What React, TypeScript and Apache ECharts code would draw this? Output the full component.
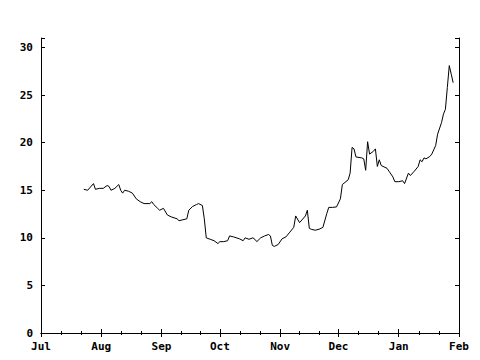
import React, { useEffect, useRef } from "react";
import * as echarts from "echarts";

const dates: string[] = [
  "2007-07-23", "2007-07-25", "2007-07-28", "2007-07-29", "2007-07-31",
  "2007-08-02", "2007-08-04", "2007-08-05", "2007-08-06", "2007-08-08",
  "2007-08-10", "2007-08-11", "2007-08-12", "2007-08-13", "2007-08-15",
  "2007-08-17", "2007-08-19", "2007-08-21", "2007-08-23", "2007-08-26",
  "2007-08-27", "2007-08-28", "2007-08-30", "2007-08-31", "2007-09-02",
  "2007-09-04", "2007-09-06", "2007-09-09", "2007-09-10", "2007-09-12",
  "2007-09-14", "2007-09-15", "2007-09-17", "2007-09-19", "2007-09-20",
  "2007-09-22", "2007-09-23", "2007-09-24", "2007-09-26", "2007-09-28",
  "2007-09-30", "2007-10-01", "2007-10-03", "2007-10-05", "2007-10-06",
  "2007-10-08", "2007-10-11", "2007-10-13", "2007-10-14", "2007-10-16",
  "2007-10-18", "2007-10-19", "2007-10-20", "2007-10-22", "2007-10-24",
  "2007-10-26", "2007-10-27", "2007-10-28", "2007-10-29", "2007-10-31",
  "2007-11-02", "2007-11-04", "2007-11-06", "2007-11-08", "2007-11-09",
  "2007-11-11", "2007-11-14", "2007-11-15", "2007-11-16", "2007-11-17",
  "2007-11-19", "2007-11-21", "2007-11-23", "2007-11-25", "2007-11-26",
  "2007-11-28", "2007-11-30", "2007-12-02", "2007-12-03", "2007-12-06",
  "2007-12-07", "2007-12-08", "2007-12-09", "2007-12-10", "2007-12-13",
  "2007-12-14", "2007-12-15", "2007-12-16", "2007-12-17", "2007-12-19",
  "2007-12-20", "2007-12-21", "2007-12-22", "2007-12-23", "2007-12-26",
  "2007-12-27", "2007-12-29", "2007-12-30", "2008-01-01", "2008-01-03",
  "2008-01-04", "2008-01-06", "2008-01-07", "2008-01-09", "2008-01-11",
  "2008-01-12", "2008-01-13", "2008-01-14", "2008-01-15", "2008-01-17",
  "2008-01-18", "2008-01-20", "2008-01-21", "2008-01-23", "2008-01-24",
  "2008-01-25", "2008-01-26", "2008-01-27", "2008-01-28", "2008-01-29",
];

const values: number[] = [
  15.1, 15.0, 15.7, 15.1, 15.2,
  15.2, 15.5, 15.4, 15.0, 15.2,
  15.6, 15.0, 14.7, 15.0, 14.9,
  14.7, 14.1, 13.8, 13.6, 13.6,
  13.8, 13.5, 13.1, 12.9, 13.1,
  12.4, 12.2, 12.0, 11.8, 11.9,
  12.0, 12.9, 13.3, 13.5, 13.6,
  13.4, 12.0, 10.0, 9.85, 9.7,
  9.4, 9.6, 9.6, 9.7, 10.2,
  10.1, 9.9, 9.7, 10.0, 9.85,
  10.0, 9.85, 9.6, 10.0, 10.2,
  10.35, 10.2, 9.2, 9.1, 9.3,
  9.9, 10.1, 10.6, 11.1, 12.3,
  11.6, 12.3, 12.9, 11.0, 10.9,
  10.8, 10.9, 11.1, 12.55, 13.2,
  13.2, 13.25, 14.1, 15.6, 16.1,
  16.8, 19.5, 19.35, 18.5, 18.4,
  18.3, 17.1, 20.1, 18.8, 19.1,
  19.35, 17.5, 18.2, 17.6, 17.3,
  17.0, 16.4, 15.9, 15.9, 16.0,
  15.7, 16.8, 16.55, 17.0, 17.5,
  18.2, 18.0, 18.4, 18.3, 18.55,
  18.8, 19.7, 20.9, 22.1, 23.0,
  23.5, 25.8, 28.1, 27.2, 26.3,
];

const monthNames: string[] = ["Jan", "Feb", "Mar", "Apr", "May", "Jun", "Jul", "Aug", "Sep", "Oct", "Nov", "Dec"];
const xMin = "2007-07-01";
const xMax = "2008-02-01";
const yMin = 0;
const yMax = 31;
const yStep = 5;

export default function App() {
  const ref = useRef<HTMLDivElement>(null);
  useEffect(() => {
    if (!ref.current) return;
    const chart = echarts.init(ref.current, undefined, { renderer: "svg" });
    const font = {
      fontFamily: "DejaVu Sans Mono",
      fontWeight: "bold" as const,
      fontSize: 11,
      color: "#000",
    };
    const day = 86400000;
    const minX = new Date(xMin + "T00:00:00").getTime();
    const maxX = new Date(xMax + "T00:00:00").getTime();
    const xCommon = {
      type: "time" as const,
      min: minX,
      max: maxX,
      minInterval: 28 * day,
      maxInterval: 31 * day,
      axisLine: { show: true, lineStyle: { color: "#000", width: 1 } },
      axisTick: { show: true, inside: true, length: 4, lineStyle: { color: "#000" } },
      minorTick: { show: true, splitNumber: 3, length: 2, lineStyle: { color: "#000" } },
      splitLine: { show: false },
      minorSplitLine: { show: false },
    };
    const yCommon = {
      type: "value" as const,
      min: yMin,
      max: yMax,
      interval: yStep,
      axisLine: { show: true, lineStyle: { color: "#000", width: 1 } },
      axisTick: { show: true, inside: true, length: 4, lineStyle: { color: "#000" } },
      splitLine: { show: false },
    };
    chart.setOption({
      animation: false,
      backgroundColor: "#fff",
      grid: { left: 41, right: 21, top: 38, bottom: 27, containLabel: false },
      xAxis: [
        {
          ...xCommon,
          position: "bottom",
          axisLabel: {
            ...font,
            margin: 8,
            showMinLabel: true,
            showMaxLabel: true,
            hideOverlap: false,
            formatter: (v: number) => monthNames[new Date(v).getMonth()],
          },
        },
        {
          ...xCommon,
          position: "top",
          axisLabel: { show: false },
        },
      ],
      yAxis: [
        {
          ...yCommon,
          position: "left",
          axisLabel: {
            ...font,
            margin: 8,
            formatter: (v: number) => (v % yStep === 0 ? String(v) : ""),
          },
        },
        {
          ...yCommon,
          position: "right",
          axisLabel: { show: false },
        },
      ],
      series: [
        {
          type: "line",
          data: dates.map((d, i) => [d, values[i]]),
          showSymbol: false,
          symbol: "none",
          lineStyle: { color: "#000", width: 1 },
          itemStyle: { color: "#000" },
          xAxisIndex: 0,
          yAxisIndex: 0,
        },
      ],
    });
    return () => chart.dispose();
  }, []);
  return <div ref={ref} style={{ width: 480, height: 360, position: "absolute", left: 0, top: 0 }} />;
}
